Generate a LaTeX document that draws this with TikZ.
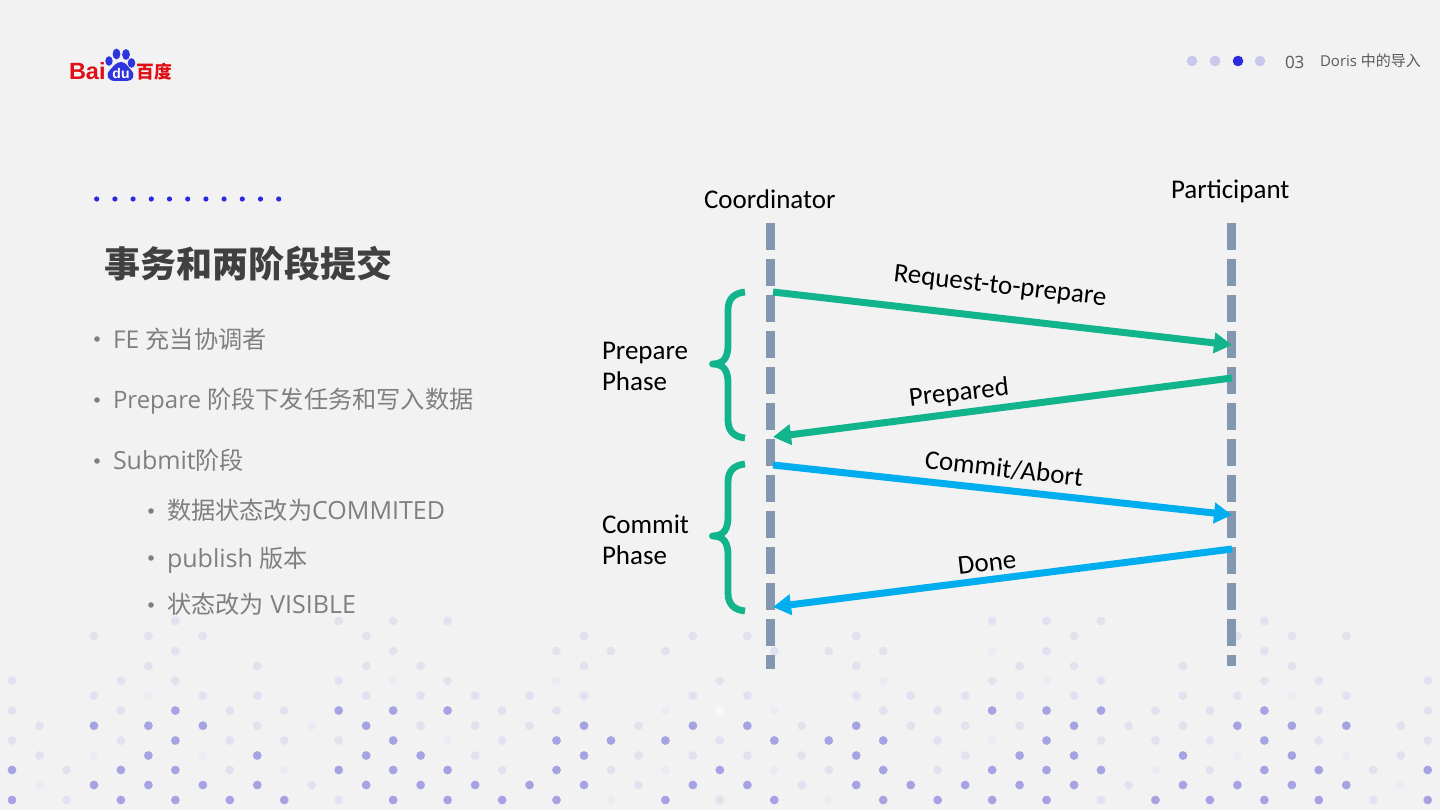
\documentclass[tikz,border=0pt]{standalone}
\usepackage{fontspec}
\usetikzlibrary{arrows.meta}
\setmainfont{Open Sans}
\newfontfamily\cjk{Noto Sans CJK SC}
\newfontfamily\diag{Carlito}
\newfontfamily\logof{Liberation Sans}
\newcommand{\fsz}[1]{\fontsize{#1}{#1}\selectfont}
\newcommand{\zh}[1]{{\cjk\fsz{24.2}#1}}
\definecolor{bgc}{HTML}{F2F2F2}
\definecolor{dotdark}{HTML}{A6A3E3}
\definecolor{dotlight}{HTML}{E2E1F0}
\definecolor{dotfaint}{HTML}{ECEBF4}
\definecolor{dotwhite}{HTML}{F9F9FB}
\definecolor{accent}{HTML}{2A2ADF}
\definecolor{navlight}{HTML}{C9C8EC}
\definecolor{bodygrey}{HTML}{7F7F7F}
\definecolor{titlegrey}{HTML}{404040}
\definecolor{navgrey}{HTML}{595959}
\definecolor{bargrey}{HTML}{8497B0}
\definecolor{flowgreen}{HTML}{12B48C}
\definecolor{flowblue}{HTML}{00AEEF}
\definecolor{baidured}{HTML}{DE0F17}
\definecolor{baidublue}{HTML}{2F35DC}
\tikzset{
  dot1/.style={fill=dotfaint},
  dot2/.style={fill=dotlight},
  dot3/.style={fill=dotdark},
  dot4/.style={fill=dotwhite},
  txt/.style={inner sep=0pt,outer sep=0pt,anchor=base west},
  bodytxt/.style={txt,text=bodygrey,font=\fsz{25}},
  difftxt/.style={inner sep=0pt,outer sep=0pt,font=\diag\fsz{27},text=black},
  phasetxt/.style={txt,font=\diag\fsz{27},text=black},
  lifeline/.style={line width=9pt,draw=bargrey,dash pattern=on 27pt off 9pt},
  msggreen/.style={line width=7pt,draw=flowgreen,-{Triangle[length=18pt,width=20pt]}},
  msgblue/.style={line width=7pt,draw=flowblue,-{Triangle[length=18pt,width=20pt]}},
  bracket/.style={line width=6.8pt,draw=flowgreen,line cap=butt,line join=round}
}
\begin{document}
\begin{tikzpicture}[x=1pt,y=-1pt]
\useasboundingbox (0,0) rectangle (1440,810);
\fill[bgc] (0,0) rectangle (1440,810);
% background dots
\foreach \ypos/\xo/\vals in {
621/12/{0,0,0,2,0,0,2,2,2,0,0,0,0,0,0,0,0,0,2,2,2,0,0,2,0,0,0},
636/39.5/{0,2,2,2,0,0,2,0,0,0,2,0,2,2,0,2,0,0,0,2,0,0,2,2,2,0},
651/12/{0,0,0,2,0,0,0,2,0,0,2,2,2,0,2,2,2,0,1,2,0,0,0,2,0,0,0},
666/39.5/{0,0,2,0,2,0,2,2,0,0,2,0,0,0,0,2,0,0,2,2,0,2,0,2,0,0},
680.7/12/{2,0,2,2,0,0,2,1,2,0,1,0,0,2,0,0,1,0,2,1,2,0,0,2,2,0,2},
695.7/39.5/{0,2,1,2,2,0,2,2,2,2,2,0,2,2,0,2,2,2,2,2,0,2,2,1,2,0},
710.5/12/{2,0,2,3,2,2,3,3,3,2,2,0,1,4,1,0,2,2,3,3,3,2,2,3,2,0,2},
725.7/39.5/{2,3,3,3,2,1,3,2,2,2,3,2,3,3,2,3,2,2,2,3,2,2,3,3,3,2},
740.5/12/{2,0,2,3,2,2,2,3,1,2,3,3,3,2,3,3,3,2,1,3,2,2,2,3,2,0,2},
755.5/39.5/{2,1,3,1,3,0,3,3,2,0,3,2,2,2,2,3,0,2,3,3,0,3,1,3,1,2},
770/12/{3,2,3,3,2,1,3,3,3,2,3,2,1,3,1,2,3,2,3,3,3,1,2,3,3,2,3},
785/39.5/{1,3,3,3,3,2,3,3,3,3,3,2,3,3,2,3,3,3,3,3,2,3,3,3,3,1},
800/12/{3,2,3,3,3,3,2,3,3,3,3,1,3,2,3,1,3,3,3,3,2,3,3,3,3,2,3}}{
  \foreach \v [count=\k from 0] in \vals {
    \ifnum\v>0
      \path[dot\v] ({\xo+54.45*\k},\ypos) circle[radius=4.4];
    \fi
  }
}
% logo
\node[txt,text=baidured,font=\logof\bfseries\fsz{23.5}] (bai) at (69,80) {Bai};
\fill[baidublue] (116.5,54) ellipse[x radius=3.9,y radius=5.4];
\fill[baidublue] (126,54.5) ellipse[x radius=3.9,y radius=5.4];
\fill[baidublue] (109,61) ellipse[x radius=3.7,y radius=4.8];
\fill[baidublue] (131.5,63) ellipse[x radius=3.8,y radius=4.8];
\fill[baidublue] (121,62) .. controls (126,62) and (128,67) .. (131,70) .. controls (136,75) and (133,81) .. (127,81) -- (115,81) .. controls (108,81) and (105,75) .. (110,70) .. controls (113,67) and (116,62) .. (121,62) -- cycle;
\node[inner sep=0pt,text=white,font=\logof\bfseries\fsz{14}] (du) at (121,73) {du};
\node[txt,text=baidured,font=\cjk\bfseries\fsz{17.8}] (baidu) at (136.5,78.5) {百度};
% nav
\fill[navlight] (1192,61) circle[radius=5.3];
\fill[navlight] (1215,61) circle[radius=5.3];
\fill[accent] (1238,61) circle[radius=5.3];
\fill[navlight] (1260,61) circle[radius=5.3];
\node[txt,text=navgrey,font=\fsz{17}] (num) at (1285,69) {03};
\node[txt,text=navgrey,font=\fsz{15}] (sect) at (1320,66.5) {Doris {\cjk 中的导入}};
% dotted rule and title
\foreach \k in {0,...,10} \fill[accent] ({96.7+18.2*\k},199) circle[radius=2.6];
\node[txt,text=titlegrey,font=\cjk\bfseries\fsz{36}] (title) at (104.5,278) {事务和两阶段提交};
% bullets
\foreach \bx/\by in {97/339,97/400,97/461,151/511,151/558,151/605}
  \fill[bodygrey] (\bx,\by) circle[radius=2.8];
\node[bodytxt,font=\fsz{24.5}] (t1) at (113,348) {FE \zh{充当协调者}};
\node[bodytxt,font=\fsz{24}] (t2) at (113,408.5) {Prepare \zh{阶段下发任务和写入数据}};
\node[bodytxt] (t3) at (113,469.3) {Submit\zh{阶段}};
\node[bodytxt] (t4) at (167,519.3) {\zh{数据状态改为}COMMITED};
\node[bodytxt] (t5) at (167,567) {publish \zh{版本}};
\node[bodytxt] (t6) at (167,613.3) {\zh{状态改为} VISIBLE};
% lifelines
\coordinate (ctop) at (770.7,223);
\coordinate (cbot) at (770.7,669);
\coordinate (ptop) at (1231.3,223);
\coordinate (pbot) at (1231.3,665.5);
\draw[lifeline] (ctop) -- (cbot);
\draw[lifeline] (ptop) -- (pbot);
\node[txt,font=\diag\fsz{27}] (coord) at (704,209) {Coordinator};
\node[txt,font=\diag\fsz{27}] (part) at (1171,198.5) {Participant};
% messages
\coordinate (m1a) at (773,292); \coordinate (m1b) at (1232,345);
\coordinate (m2a) at (1232,378); \coordinate (m2b) at (773,437);
\coordinate (m3a) at (773,465); \coordinate (m3b) at (1232,515);
\coordinate (m4a) at (1232,549); \coordinate (m4b) at (773,607);
\draw[msggreen] (m1a) -- (m1b);
\draw[msggreen] (m2a) -- (m2b);
\draw[msgblue] (m3a) -- (m3b);
\draw[msgblue] (m4a) -- (m4b);
\node[difftxt,rotate=-6.5] (l1) at (1000,287) {Request-to-prepare};
\node[difftxt,rotate=6.5] (l2) at (959,393.5) {Prepared};
\node[difftxt,rotate=-6.5] (l3) at (1004,468.5) {Commit/Abort};
\node[difftxt,rotate=6.5] (l4) at (987,563) {Done};
% braces
\draw[bracket] (745,292) .. controls (735,293) and (728,298) .. (728,310) -- (728,345) .. controls (728,357) and (724,364) .. (712.5,364) .. controls (724,364) and (728,371) .. (728,383) -- (728,420) .. controls (728,432) and (735,437) .. (745,438);
\draw[bracket] (745,464) .. controls (735,465) and (728,470) .. (728,482) -- (728,517) .. controls (728,529) and (724,536) .. (712.5,536) .. controls (724,536) and (728,543) .. (728,555) -- (728,593) .. controls (728,605) and (735,610) .. (745,611);
\node[phasetxt] (pp1) at (602,359.3) {Prepare};
\node[phasetxt] (pp2) at (602,390) {Phase};
\node[phasetxt] (cp1) at (602,533) {Commit};
\node[phasetxt] (cp2) at (602,564) {Phase};
\end{tikzpicture}
\end{document}
